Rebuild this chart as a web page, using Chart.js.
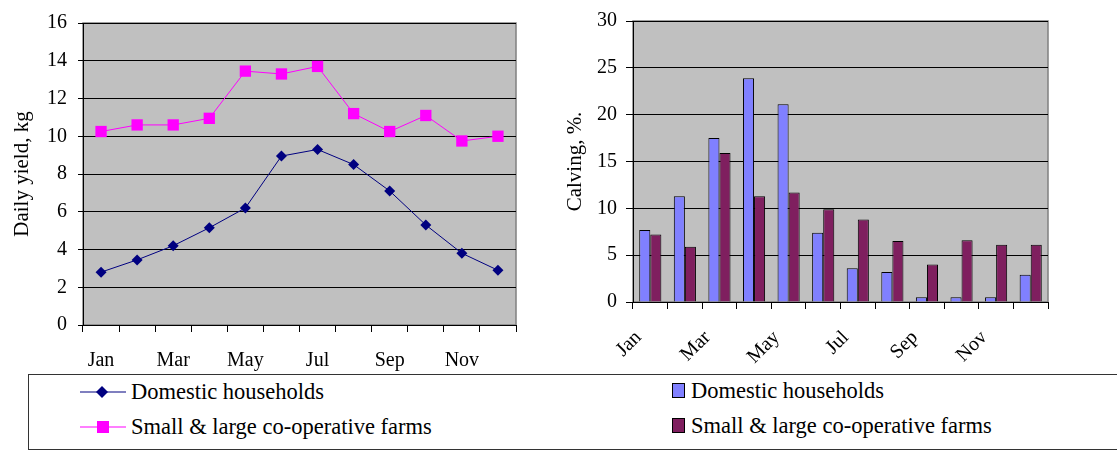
<!DOCTYPE html>
<html>
<head>
<meta charset="utf-8">
<script src="https://cdn.jsdelivr.net/npm/chart.js@4"></script>
<style>
  body { margin: 0; background: #fff; }
  #wrap { position: relative; width: 1117px; height: 456px; overflow: hidden; }
  canvas { position: absolute; top: 0; }
  #yieldChart { left: 0; }
  #calvingChart { left: 560px; }
  #legend {
    position: absolute; left: 28px; top: 374px; width: 1095px; height: 76px;
    border: 1.5px solid #333; box-sizing: border-box;
  }
  .item {
    position: absolute; display: flex; align-items: center; white-space: nowrap;
    font-family: 'Liberation Serif', 'Times New Roman', serif; font-size: 22.5px; color: #000;
  }
  .item svg { margin-right: 5px; }
</style>
</head>
<body>
<div id="wrap">
  <canvas id="yieldChart" width="560" height="372"></canvas>
  <canvas id="calvingChart" width="557" height="372"></canvas>
  <div id="legend"></div>
</div>
<script>
// Data
const months = ['Jan', 'Feb', 'Mar', 'Apr', 'May', 'Jun', 'Jul', 'Aug', 'Sep', 'Oct', 'Nov', 'Dec'];
const seriesNames = ['Domestic households', 'Small & large co-operative farms'];

// Daily yield, kg
const yieldDomestic = [2.8, 3.45, 4.2, 5.15, 6.2, 8.95, 9.3, 8.5, 7.1, 5.3, 3.8, 2.9];
const yieldCoop = [10.25, 10.6, 10.6, 10.95, 13.45, 13.3, 13.7, 11.2, 10.25, 11.1, 9.75, 10.0];

// Calving, %
const calvingDomestic = [7.7, 11.3, 17.5, 23.9, 21.1, 7.4, 3.6, 3.2, 0.5, 0.5, 0.5, 2.9];
const calvingCoop = [7.2, 5.9, 15.9, 11.3, 11.7, 9.9, 8.8, 6.5, 4.0, 6.6, 6.1, 6.1];

const FONT = "'Liberation Serif', 'Times New Roman', serif";
const tickFont = { family: FONT, size: 20 };
const titleFont = { family: FONT, size: 21 };

// grey plot area with thin grey frame
const plotBg = {
  id: 'plotBg',
  beforeDraw(chart) {
    const { ctx, chartArea: a } = chart;
    ctx.save();
    ctx.fillStyle = '#c0c0c0';
    ctx.fillRect(a.left, a.top, a.width, a.height);
    ctx.strokeStyle = '#808080';
    ctx.lineWidth = 1.5;
    ctx.strokeRect(a.left, a.top, a.width, a.height);
    ctx.restore();
  }
};

function everyOther(value, index) {
  return index % 2 === 0 ? this.getLabelForValue(value) : '';
}

// Left chart: daily yield
new Chart(document.getElementById('yieldChart'), {
  type: 'line',
  data: {
    labels: months,
    datasets: [
      {
        label: seriesNames[0],
        data: yieldDomestic,
        borderColor: '#000080',
        backgroundColor: '#000080',
        borderWidth: 1,
        pointStyle: 'rectRot',
        pointRadius: 5.5,
        pointBorderWidth: 0,
        tension: 0
      },
      {
        label: seriesNames[1],
        data: yieldCoop,
        borderColor: '#ff00ff',
        backgroundColor: '#ff00ff',
        borderWidth: 1,
        pointStyle: 'rect',
        pointRadius: 8,
        pointBorderWidth: 0,
        tension: 0
      }
    ]
  },
  options: {
    responsive: false,
    animation: false,
    layout: { padding: { top: 20, right: 44, left: 0, bottom: 0 } },
    plugins: { legend: { display: false }, tooltip: { enabled: false } },
    scales: {
      x: {
        offset: true,
        grid: { offset: true, drawOnChartArea: false, drawTicks: true, tickLength: 7, color: '#000' },
        border: { color: '#000', width: 1 },
        ticks: { autoSkip: false, maxRotation: 0, font: tickFont, color: '#000', padding: 17, callback: everyOther },
        afterFit(scale) { scale.height = 47; }
      },
      y: {
        min: 0, max: 16,
        ticks: { stepSize: 2, font: tickFont, color: '#000', padding: 11 },
        grid: { color: '#000', lineWidth: 1, tickLength: 5 },
        border: { color: '#000', width: 1 },
        title: { display: true, text: 'Daily yield, kg', font: titleFont, color: '#000', padding: { top: 10, bottom: 0 } },
        afterFit(scale) { scale.width = 83; }
      }
    }
  },
  plugins: [plotBg]
});

// Right chart: calving
new Chart(document.getElementById('calvingChart'), {
  type: 'bar',
  data: {
    labels: months,
    datasets: [
      {
        label: seriesNames[0],
        data: calvingDomestic,
        backgroundColor: '#8080ff',
        borderColor: '#000',
        borderWidth: 1,
        barPercentage: 1,
        categoryPercentage: 0.64
      },
      {
        label: seriesNames[1],
        data: calvingCoop,
        backgroundColor: '#7f1f5f',
        borderColor: '#000',
        borderWidth: 1,
        barPercentage: 1,
        categoryPercentage: 0.64
      }
    ]
  },
  options: {
    responsive: false,
    animation: false,
    layout: { padding: { top: 20, right: 69, left: 0, bottom: 0 } },
    plugins: { legend: { display: false }, tooltip: { enabled: false } },
    scales: {
      x: {
        grid: { offset: true, drawOnChartArea: false, drawTicks: true, tickLength: 7, color: '#000' },
        border: { color: '#000', width: 1 },
        ticks: {
          autoSkip: false, minRotation: 45, maxRotation: 45, font: tickFont, color: '#000',
          padding: 17, labelOffset: -12, callback: everyOther
        },
        afterFit(scale) { scale.height = 70; }
      },
      y: {
        min: 0, max: 30,
        ticks: { stepSize: 5, font: tickFont, color: '#000', padding: 9 },
        grid: { color: '#000', lineWidth: 1, tickLength: 7 },
        border: { color: '#000', width: 1 },
        title: { display: true, text: 'Calving, %.', font: titleFont, color: '#000', padding: { top: 3, bottom: 0 } },
        afterFit(scale) { scale.width = 73; }
      }
    }
  },
  plugins: [plotBg]
});

// Shared legend box under both charts
const legend = document.getElementById('legend');
const lineMarks = [
  '<svg width="46" height="14"><line x1="0" y1="7" x2="46" y2="7" stroke="#000080" stroke-width="1.2"/><polygon points="22,1 28,7 22,13 16,7" fill="#000080"/></svg>',
  '<svg width="46" height="14"><line x1="0" y1="7" x2="46" y2="7" stroke="#ff00ff" stroke-width="1.2"/><rect x="17" y="1" width="12" height="12" fill="#ff00ff"/></svg>'
];
const barColors = ['#8080ff', '#7f1f5f'];
const rowTops = [17, 52];

seriesNames.forEach((name, i) => {
  const left = document.createElement('div');
  left.className = 'item';
  left.style.left = '51px';
  left.style.top = (rowTops[i] - 13) + 'px';
  left.innerHTML = lineMarks[i] + '<span>' + name + '</span>';
  legend.appendChild(left);

  const right = document.createElement('div');
  right.className = 'item';
  right.style.left = '643px';
  right.style.top = (rowTops[i] - 14) + 'px';
  right.innerHTML = '<svg width="14" height="16"><rect x="0.5" y="0.5" width="12" height="14" fill="' + barColors[i] + '" stroke="#000" stroke-width="1"/></svg><span>' + name + '</span>';
  legend.appendChild(right);
});
</script>
</body>
</html>
